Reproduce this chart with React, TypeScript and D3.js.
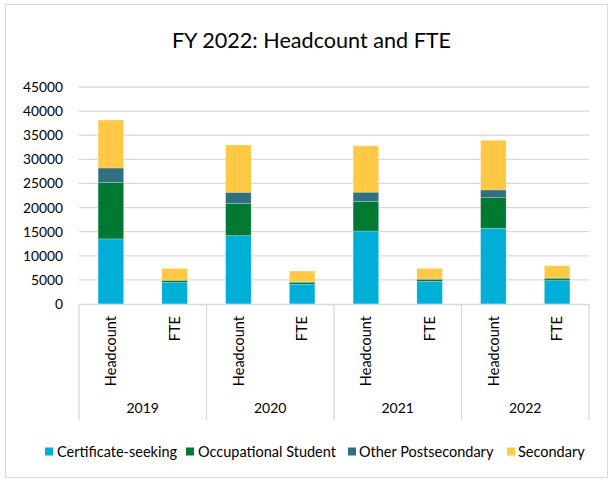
import * as d3 from 'd3';

const years = ['2019', '2020', '2021', '2022'];
const measures = ['Headcount', 'FTE'];
const seriesNames = ['Certificate-seeking', 'Occupational Student', 'Other Postsecondary', 'Secondary'];
const seriesColors = ['#00AFD8', '#007A33', '#31717F', '#FFC845'];

// order: 2019 HC, 2019 FTE, 2020 HC, 2020 FTE, ...
const certificate = [13500, 4450, 14170, 4100, 15140, 4700, 15700, 4850];
const occupational = [11700, 400, 6700, 330, 6100, 350, 6350, 380];
const otherPost = [3000, 100, 2300, 200, 1950, 140, 1600, 180];
const secondary = [9950, 2400, 9800, 2200, 9600, 2200, 10300, 2500];
const yTicks = [0, 5000, 10000, 15000, 20000, 25000, 30000, 35000, 40000, 45000];

const W = 613;
const H = 483;
const plot = { left: 79, right: 589, top: 87, bottom: 304 };
const font = 'Lato, "Open Sans", sans-serif';

export default function App() {
  const rows = years.flatMap((yr, i) =>
    measures.map((m, j) => {
      const k = i * 2 + j;
      return {
        year: yr,
        measure: m,
        'Certificate-seeking': certificate[k],
        'Occupational Student': occupational[k],
        'Other Postsecondary': otherPost[k],
        Secondary: secondary[k],
      };
    })
  );

  const stack = d3.stack<any>().keys(seriesNames);
  const layers = stack(rows);

  const x0 = d3.scaleBand().domain(years).range([plot.left, plot.right]).paddingInner(0).paddingOuter(0);
  const x1 = d3.scaleBand().domain(measures).range([0, x0.bandwidth()]).paddingInner(0.6).paddingOuter(0.3);
  const y = d3.scaleLinear().domain([0, 45000]).range([plot.bottom, plot.top]);

  const legendItems = [
    { x: 45, tx: 57 },
    { x: 186, tx: 198 },
    { x: 348, tx: 359 },
    { x: 507, tx: 518 },
  ];

  return (
    <svg width={W} height={H} style={{ position: 'absolute', left: 0, top: 0, background: '#fff' }}>
      <rect x={5.5} y={4.5} width={602} height={473} fill="#fff" stroke="#d9d9d9" strokeWidth={1} />
      <text x={311.5} y={47.5} textAnchor="middle" fontFamily={font} fontSize={21.6} fill="#000">
        FY 2022: Headcount and FTE
      </text>

      {yTicks.map(t => (
        <g key={t}>
          {t > 0 && (
            <line x1={plot.left} x2={plot.right} y1={y(t)} y2={y(t)} stroke="#d9d9d9" strokeWidth={1.3} />
          )}
          <text x={63} y={y(t)} dy="0.36em" textAnchor="end" fontFamily={font} fontSize={13.8} fill="#000">
            {t}
          </text>
        </g>
      ))}

      {layers.map((layer, si) => (
        <g key={layer.key} fill={seriesColors[si]}>
          {layer.map((d, i) => {
            const r = rows[i];
            const bx = (x0(r.year) as number) + (x1(r.measure) as number);
            return (
              <rect
                key={i}
                x={bx}
                y={y(d[1])}
                width={x1.bandwidth()}
                height={Math.max(0, y(d[0]) - y(d[1]))}
                stroke="#ffffff"
                strokeOpacity={0.35}
                strokeWidth={0.6}
              />
            );
          })}
        </g>
      ))}

      <line x1={plot.left} x2={plot.right} y1={plot.bottom + 0.5} y2={plot.bottom + 0.5} stroke="#d9d9d9" strokeWidth={1.3} />
      {[...years.map(yr => x0(yr) as number), plot.right].map((xv, i) => (
        <line key={i} x1={xv} x2={xv} y1={plot.bottom} y2={420} stroke="#d9d9d9" strokeWidth={1.3} />
      ))}

      {rows.map((r, i) => {
        const cx = (x0(r.year) as number) + (x1(r.measure) as number) + x1.bandwidth() / 2;
        return (
          <text
            key={i}
            transform={`translate(${cx},316) rotate(-90)`}
            dy="0.36em"
            textAnchor="end"
            fontFamily={font}
            fontSize={14.5}
            fill="#000"
          >
            {r.measure}
          </text>
        );
      })}

      {years.map(yr => (
        <text
          key={yr}
          x={(x0(yr) as number) + x0.bandwidth() / 2}
          y={408}
          dy="0.36em"
          textAnchor="middle"
          fontFamily={font}
          fontSize={14}
          fill="#000"
        >
          {yr}
        </text>
      ))}

      {seriesNames.map((name, i) => (
        <g key={name}>
          <rect x={legendItems[i].x} y={447.5} width={8} height={8} fill={seriesColors[i]} />
          <text x={legendItems[i].tx} y={451.5} dy="0.36em" fontFamily={font} fontSize={14.5} fill="#000">
            {name}
          </text>
        </g>
      ))}
    </svg>
  );
}
